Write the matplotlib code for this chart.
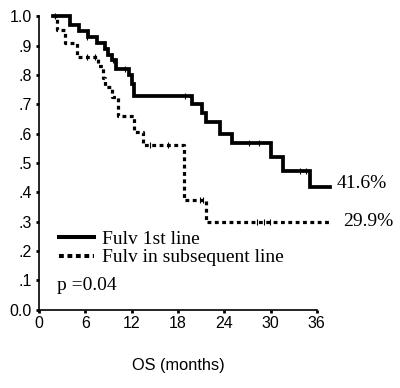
import matplotlib
matplotlib.use("Agg")
import matplotlib.pyplot as plt
from matplotlib.lines import Line2D

# Kaplan-Meier steps (months, survival)
first_t = [1.8, 4.0, 5.2, 6.3, 7.5, 8.5, 9.0, 9.5, 10.0, 11.6, 12.0, 12.3,
           19.8, 21.1, 21.7, 23.4, 25.0, 30.1, 31.6, 35.1, 37.7]
first_s = [1.0, 0.97, 0.95, 0.93, 0.91, 0.89, 0.87, 0.85, 0.82, 0.80, 0.77, 0.73,
           0.70, 0.67, 0.64, 0.60, 0.567, 0.522, 0.474, 0.417, 0.417]
first_cens_t = [2.1, 6.2, 9.6, 11.1, 18.9, 27.2, 28.5, 33.8, 34.6]
first_cens_s = [1.0, 0.93, 0.85, 0.82, 0.73, 0.567, 0.567, 0.474, 0.474]

later_t = [1.8, 2.3, 3.4, 4.9, 7.6, 8.3, 8.6, 9.4, 10.2, 12.3, 13.5, 18.8, 21.7, 37.7]
later_s = [1.0, 0.954, 0.908, 0.863, 0.83, 0.79, 0.76, 0.726, 0.66, 0.607, 0.561,
           0.374, 0.300, 0.300]
later_cens_t = [6.2, 7.2, 14.4, 16.7, 20.9, 21.3, 28.2, 29.1, 29.9]
later_cens_s = [0.863, 0.863, 0.561, 0.561, 0.374, 0.374, 0.30, 0.30, 0.30]

xticks = [0, 6, 12, 18, 24, 30, 36]
yticks = [0.0, 0.1, 0.2, 0.3, 0.4, 0.5, 0.6, 0.7, 0.8, 0.9, 1.0]
ylabels = ["0.0", ".1", ".2", ".3", ".4", ".5", ".6", ".7", ".8", ".9", "1.0"]

serif = "Liberation Serif"
sans = "Liberation Sans"

fig = plt.figure(figsize=(4.0, 3.88), dpi=100)
ax = fig.add_axes([0.0975, 0.2023, 0.6945, 0.7552])

ax.plot(first_t, first_s, drawstyle="steps-post", color="black", lw=2.7,
        solid_joinstyle="miter", clip_on=False)
ax.plot(later_t, later_s, drawstyle="steps-post", color="black", lw=2.3,
        linestyle=(0, (1.2, 1.1)), dash_capstyle="butt", clip_on=False)
ax.plot(first_cens_t, first_cens_s, ls="none", marker="|", ms=5, mew=0.8,
        color="black", clip_on=False)
ax.plot(later_cens_t, later_cens_s, ls="none", marker="|", ms=5, mew=0.8,
        color="black", clip_on=False)

ax.set_xlim(0, 36)
ax.set_ylim(0, 1)
ax.set_xticks(xticks)
ax.set_xticklabels([str(t) for t in xticks], fontfamily=sans, fontsize=11.5)
ax.set_yticks(yticks)
ax.set_yticklabels(ylabels, fontfamily=sans, fontsize=11.5)
ax.tick_params(length=2, width=2, direction="out", pad=3)

for side in ["top", "right"]:
    ax.spines[side].set_visible(False)
ax.spines["left"].set_linewidth(1.2)
ax.spines["bottom"].set_linewidth(1.2)

ax.set_xlabel("OS (months)", fontfamily=sans, fontsize=11.8, labelpad=19)

# end-of-curve percentages
ax.text(38.6, 0.431, "41.6%", fontfamily=serif, fontsize=14,
        va="center", ha="left")
ax.text(39.4, 0.300, "29.9%", fontfamily=serif, fontsize=14,
        va="center", ha="left")

handles = [Line2D([], [], color="black", lw=2.9),
           Line2D([], [], color="black", lw=2.9, linestyle=(0, (1.2, 0.9)),
                  dash_capstyle="butt")]
ax.legend(handles, ["Fulv 1st line", "Fulv in subsequent line"], frameon=False,
          loc="upper left", bbox_to_anchor=(0.044, 0.297),
          prop={"family": serif, "size": 14}, handlelength=1.8,
          handletextpad=0.4, labelspacing=0.05, borderaxespad=0)
ax.text(0.064, 0.081, "p =0.04", transform=ax.transAxes, fontfamily=serif,
        fontsize=14, va="center", ha="left")

fig.savefig("out.png", dpi=100)
